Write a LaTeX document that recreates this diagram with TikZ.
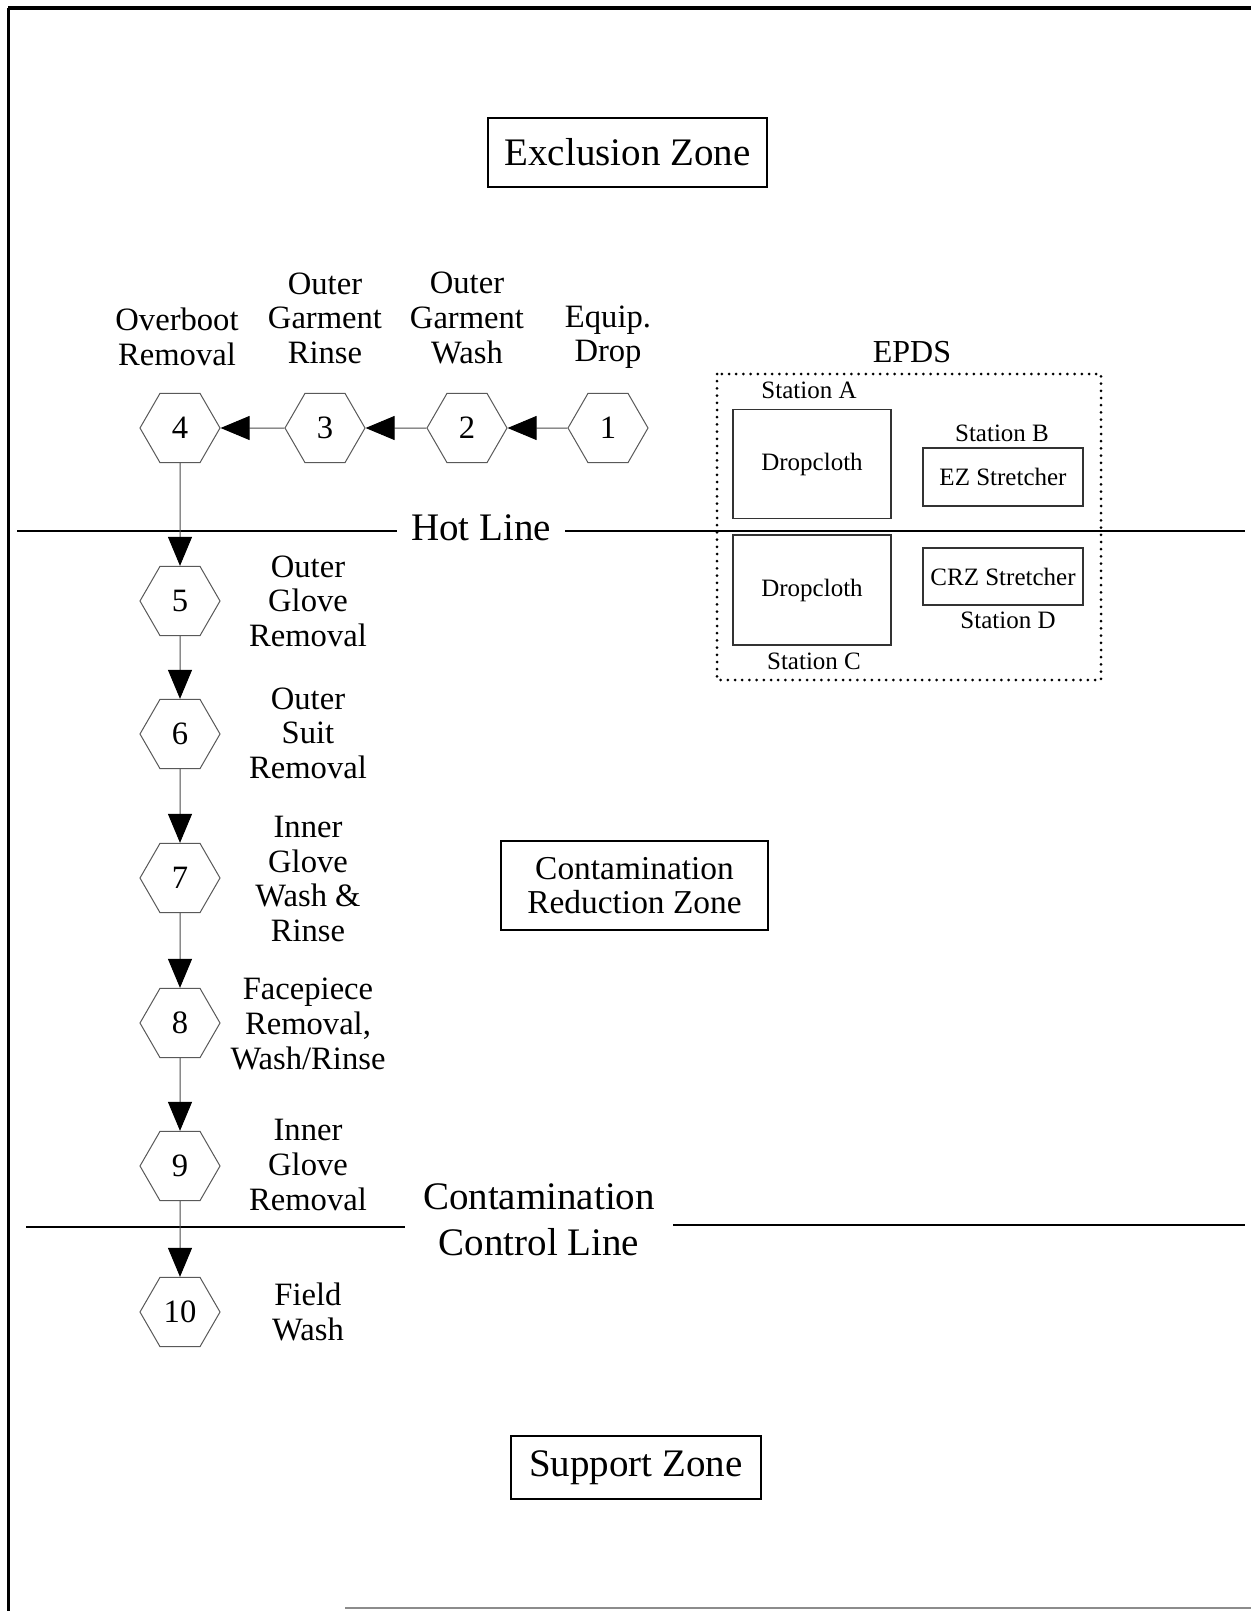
\documentclass[tikz,border=0pt]{standalone}
\usepackage{fontspec}
\setmainfont{Liberation Serif}
\usetikzlibrary{shapes.geometric,arrows.meta}
\begin{document}
\begin{tikzpicture}[x=0.5pt,y=-0.5pt,
  big/.style={font=\fontsize{19.5}{23}\selectfont, align=center},
  med/.style={font=\fontsize{16.3}{17.3}\selectfont, align=center},
  small/.style={font=\fontsize{12.5}{15}\selectfont, align=center},
  boxed/.style={draw, line width=0.9pt, inner sep=0pt},
  thinbox/.style={draw=black!80, line width=0.6pt, inner sep=0pt},
  hexa/.style={regular polygon, regular polygon sides=6, minimum size=40pt,
    inner sep=0pt, draw=black!65, line width=0.5pt, med},
  lab/.style={med, inner sep=0pt},
  conn/.style={draw=black!70, line width=0.5pt,
    -{Triangle[length=14.5pt,width=12pt,color=black]}},
  zone/.style={line width=1pt},
  epds/.style={line width=1.5pt, dash pattern=on 0pt off 3.6pt, line cap=round}]
\fill[white] (0,0) rectangle (1251,1611);
\useasboundingbox (0,0) rectangle (1251,1611);
% frame
\coordinate (fBL) at (8,1611);
\coordinate (fTL) at (8,8);
\coordinate (fTR) at (1251,8);
\draw[line width=1.5pt] (fBL) -- (fTL);
\draw[line width=2pt] (fTL) -- (fTR);
\coordinate (bL) at (345,1608);
\coordinate (bR) at (1251,1608);
\draw[black!45, line width=0.6pt] (bL) -- (bR);

% zone boxes
\node[big, boxed, minimum width=139.5pt, minimum height=34.5pt] (exz) at (627.5,152.5) {Exclusion Zone};
\node[font=\fontsize{16.7}{17}\selectfont, align=center, boxed, minimum width=133.5pt, minimum height=44.5pt] (crz) at (634.5,885.5) {Contamination\\Reduction Zone};
\node[big, boxed, minimum width=125pt, minimum height=31.5pt] (spz) at (636,1467.5) {Support Zone};

% hot line
\node[big, inner sep=7pt] (hot) at (481,528) {Hot Line};
\coordinate (hotL) at (17,531);
\coordinate (hotR) at (1245,531);
\draw[zone] (hotL) -- (hotL -| hot.west);
\draw[zone] (hotR -| hot.east) -- (hotR);

% contamination control line
\node[big, inner sep=9pt] (ccl) at (539,1220) {Contamination\\Control Line};
\coordinate (cclL) at (26,1227);
\coordinate (cclR) at (1245,1225);
\draw[zone] (cclL) -- (cclL -| ccl.west);
\draw[zone] (cclR -| ccl.east) -- (cclR);

% hexagons
\node[hexa] (h1) at (608,428) {1};
\node[hexa] (h2) at (467,428) {2};
\node[hexa] (h3) at (325,428) {3};
\node[hexa] (h4) at (180,428) {4};
\node[hexa] (h5) at (180,601) {5};
\node[hexa] (h6) at (180,734) {6};
\node[hexa] (h7) at (180,878) {7};
\node[hexa] (h8) at (180,1023) {8};
\node[hexa] (h9) at (180,1166) {9};
\node[hexa] (h10) at (180,1312) {10};

\draw[conn] (h1) -- (h2);
\draw[conn] (h2) -- (h3);
\draw[conn] (h3) -- (h4);
\draw[conn] (h4) -- (h5);
\draw[conn] (h5) -- (h6);
\draw[conn] (h6) -- (h7);
\draw[conn] (h7) -- (h8);
\draw[conn] (h8) -- (h9);
\draw[conn] (h9) -- (h10);

% top labels
\node[lab] (l4) at (177,337) {Overboot\\Removal};
\node[lab] (l3) at (325,318) {Outer\\Garment\\Rinse};
\node[lab] (l2) at (467,318) {Outer\\Garment\\Wash};
\node[lab] (l1) at (608,337) {Equip.\\Drop};

% side labels
\node[lab] (l5) at (308,601) {Outer\\Glove\\Removal};
\node[lab] (l6) at (308,733) {Outer\\Suit\\Removal};
\node[lab] (l7) at (308,879) {Inner\\Glove\\Wash \&\\Rinse};
\node[lab] (l8) at (308,1024) {Facepiece\\Removal,\\Wash/Rinse};
\node[lab] (l9) at (308,1165) {Inner\\Glove\\Removal};
\node[lab] (l10) at (308,1312) {Field\\Wash};

% EPDS
\node[font=\fontsize{16}{17}\selectfont] (epdsl) at (912,352) {EPDS};
\coordinate (eTL) at (717,374);
\coordinate (eBR) at (1101,680);
\draw[epds] (eTL) rectangle (eBR);
\node[small, thinbox, minimum width=79pt, minimum height=54.5pt] (dA) at (812,464) {Dropcloth};
\node[small, thinbox, minimum width=79pt, minimum height=55pt] (dC) at (812,590) {Dropcloth};
\node[small, thinbox, minimum width=80pt, minimum height=29pt] (sB) at (1003,477) {EZ Stretcher};
\node[small, thinbox, minimum width=80pt, minimum height=28.5pt] (sD) at (1003,576.5) {CRZ Stretcher};
\node[small] (stA) at (809,390) {Station A};
\node[small] (stB) at (1002,433) {Station B};
\node[small] (stC) at (814,661) {Station C};
\node[small] (stD) at (1008,620) {Station D};
\end{tikzpicture}
\end{document}
